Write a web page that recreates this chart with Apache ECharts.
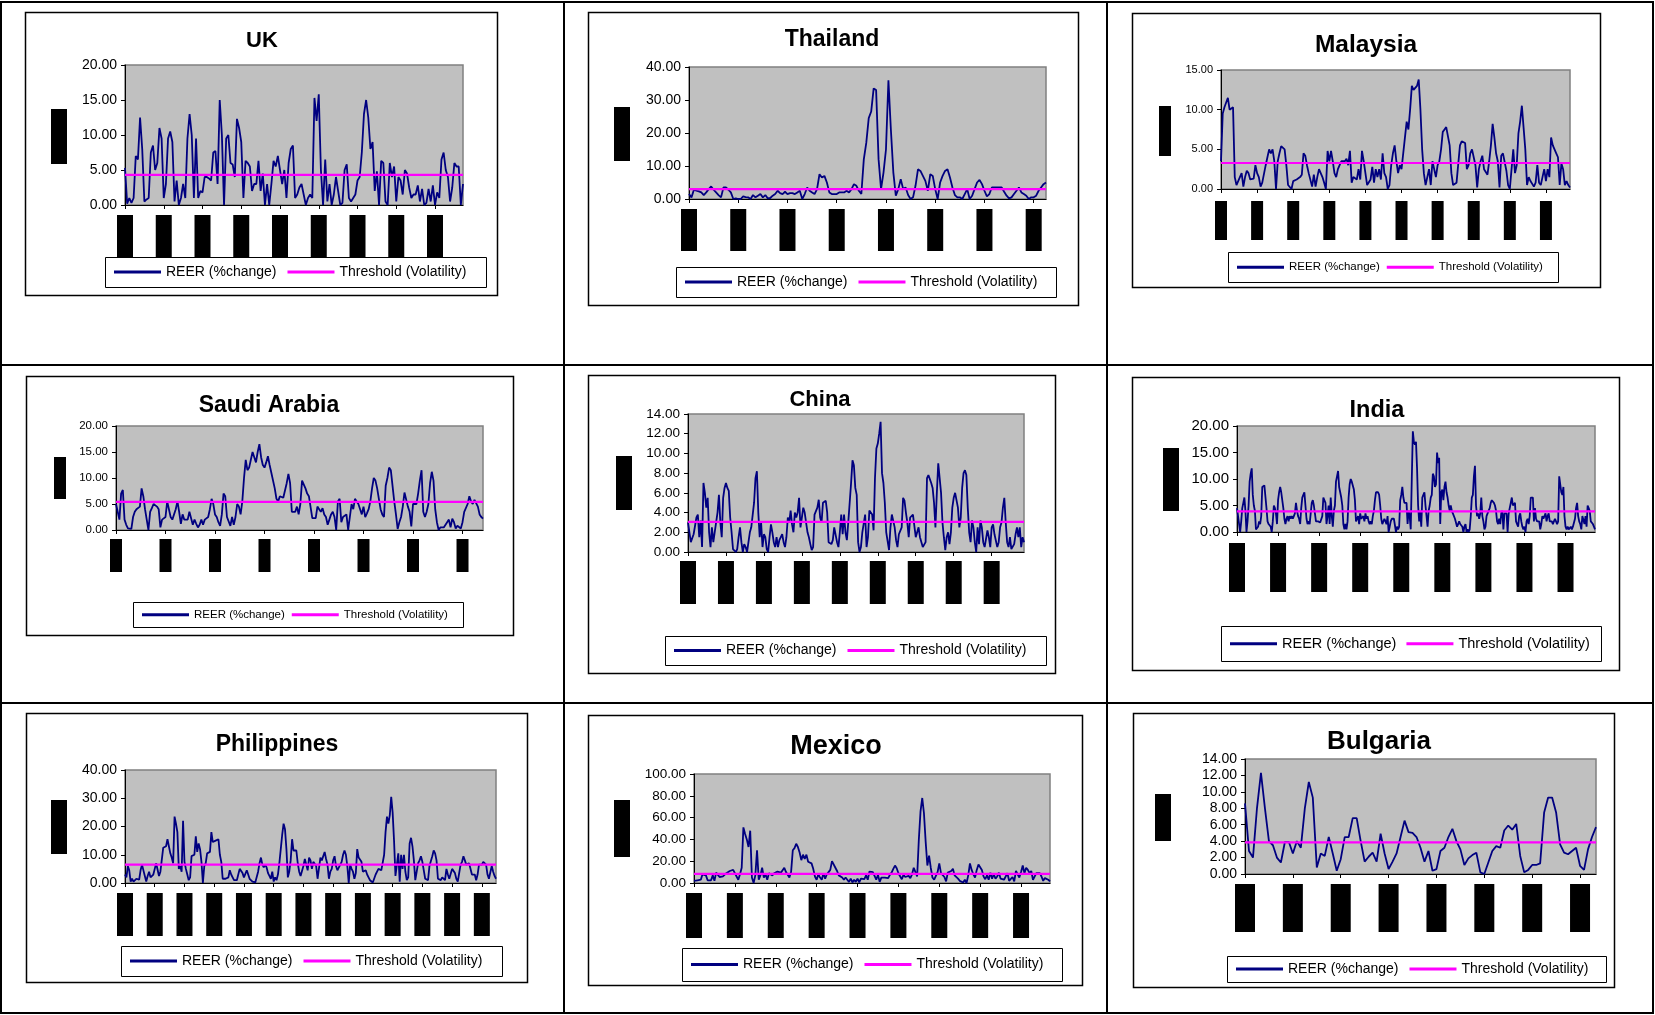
<!DOCTYPE html>
<html>
<head>
<meta charset="utf-8">
<title>REER (%change) vs Threshold (Volatility)</title>
<script src="https://cdn.jsdelivr.net/npm/echarts@6.0.0/dist/echarts.min.js"></script>
<style>
  html, body { margin: 0; padding: 0; background: #fff; }
  #chart { width: 1655px; height: 1015px; }
</style>
</head>
<body>
<div id="chart"></div>
<script>
// ---- data ----
const countries = ['UK', 'Thailand', 'Malaysia', 'Saudi Arabia', 'China', 'India', 'Philippines', 'Mexico', 'Bulgaria'];
const seriesNames = ['REER (%change)', 'Threshold (Volatility)'];
const thresholds = [4.3, 3.0, 3.28, 5.4, 3.05, 3.9, 6.5, 8.3, 3.85];
const yMax = [20, 40, 15, 20, 14, 20, 40, 100, 14];
const yStep = [5, 10, 5, 5, 2, 5, 10, 20, 2];

const ukREER = [5.3,0.2,1,0.3,1,7,6.5,12.5,8,0.5,0.8,1,7.5,8.5,5,6,11,9.5,1,3,9.5,10.5,9,0.5,3.5,0,1,3,1,9.5,13,10,1,9.5,1,2,1.8,4,4,3.8,3.5,7.5,7.7,3,15,10,0,9.5,10,6,5.8,4,12.3,11,9,1,6.3,6,5.5,2,3,3,6.3,2,4.5,0,3,0,3,6.3,5.5,7,5,3,5,1,6,8,8.5,1,1.5,2.5,3,1.5,0,1,1.5,1,15.3,12,15.8,5,0,6.5,0.5,3,0,1.5,4,2,0,0.3,5,5.8,1,0.5,1,1.5,3.5,4,7.5,13,15,12.5,8,9,2,4.8,0,6.3,6,0.5,0,6,4,5.5,0.5,4,3.5,1.5,5,4.5,2.5,1,1.5,1.5,2.8,0.5,2.3,0,0.3,2.3,0.5,2.8,0,1.8,1,6.5,7.5,5,4,0.5,2.5,6,5.5,5.5,0,3];

const thailandREER = [1.5,0.5,2.8,2.5,2.3,2,1.2,2,3,3.8,2.8,2,1.2,0.5,3.5,3.5,2.8,2,0,0.2,0,0,0.8,0.6,0.5,0,1.2,0.5,1,1.5,0.5,1.2,0.2,0.3,1,1.5,2.5,1.8,1.5,2.2,1.5,1.8,1.8,1.5,2,2.5,0,1.5,3.5,2.5,2,1.5,3,7.5,6.5,7,5,2,1.5,1.5,1.5,2,2,2,2.5,2,3,4.5,4,2.5,1.5,12,17,24.5,26.5,33.5,33,12,3,8,15,36,21,8,1,3,6,3,3.5,1.2,0,0.5,4,9,8.5,7,5.5,2.5,7.5,7,3,0,5,7,8.5,9,6.5,3.5,1.2,0.5,0.5,0,1.5,3,0,1,3,5,5.8,4.5,2.5,0.8,1.5,3.5,3.5,3.5,3.5,3.5,2.2,1,0.2,0.5,1.5,2.5,3.5,2,1.5,1,0,0.5,0.5,1,2.5,3.5,4.5,5];

const malaysiaREER = [3.5,9.5,10.3,10.5,11.5,10,9.8,10.3,1.5,0.5,1,1.5,2,0.3,1.5,2.3,2,1.2,1.2,1.3,3,2,1.5,0.3,0.8,1,3,4,5,4.5,5,3.5,0,3.5,4.5,5.4,5.4,5,3,0.5,0.5,0,1,0.8,1.2,1,1.5,1.8,4.5,4.2,3,2,1.8,0.3,1.8,0.3,1.5,2.5,2,1.5,0.8,0,4.8,3.5,4.8,3.5,2,1.5,2.5,3,3.5,3.7,3.5,3.8,3,4.8,0.8,1.5,1.3,1.2,2.5,1.2,4.8,3.5,3.5,0.5,0.3,1.2,2.8,0.8,2.5,1.5,2.5,1.2,4.5,2,1.5,0,0.5,3,4.5,5.5,3.5,2,3,2.5,2.5,6.5,8.5,7.5,10,13,12.5,12.5,13,13.8,10,5,2,0.5,1.5,2.5,0.5,3.5,3.5,1.5,3,3.5,5,7.2,7.5,7.8,7.8,5.5,2,0.5,0.3,0.8,0.8,5.5,6,6,5.8,2.5,3,4.5,5,5.2,3,0.2,2.5,3.5,4.2,2.5,2.5,1.8,3.5,5.5,8.2,6.5,4.5,3.5,0.2,4.2,4.5,4.5,2.3,0.5,0,2.5,5,2,3,7,8.5,10.5,10.5,5,0.5,1.5,1,1,0.3,0.8,3,0.8,0.5,1.5,2.5,1,2.5,1.5,6.5,5.5,5,4.5,4,0.5,3.2,2.5,0.5,1,0.5,0.2];

const saudiREER = [5,3.5,2,7,7.7,2,1,0.3,0.3,0.2,2.5,3.5,4,4.3,4.5,8,6.5,4,2,0,3.5,4.2,5,5.3,4.5,4,0.5,2,1.8,2.5,5.5,5.5,2.5,2,2.2,4,5.5,3.5,1.2,3,2,2.2,2,3.5,3.5,1,2,1.2,0.5,1,2,1,2,2,2.5,4,6,5,3,2.5,1.5,0.8,3,7,6.5,2.5,2.5,0.8,2.5,1,2.5,5,4.5,3,5.5,10,13.5,11.5,12,13.5,15,14,13,15,16.5,14,12.5,12,13,14.2,12.5,11,10.8,8,6,5.5,6.5,6.8,6.2,6.5,9,10.8,9,3.5,3.5,3.5,4.5,3,5,9.5,9.5,8,7,6.5,6.5,2.3,2.3,2.3,4.5,4,3.5,4.2,3,2.5,1,2,3,3.5,2.5,0,5.5,6,1.5,2.5,2.5,3,0,2.5,5,4,6,5.5,5,4,3,4.5,2.5,3.2,4,5.5,8,10,9.5,8,6,4,3,2.5,8.5,10,12,11.5,11.2,5.5,3,0.2,1.5,2.5,4.5,7.2,7.2,4.5,3.5,0.7,5,5,5,7,9.5,11.5,3.5,2.5,3.5,5,9,11.2,9.5,4,1.5,0,0.5,0.5,0.5,0.8,1.5,2,0.5,2.2,1.5,0.3,0.8,0.5,0.3,1.5,3.5,3.5,5,6.5,5.5,5,5.8,5.5,4.5,3,2.5,2.2];

const chinaREER = [3,2,1,0.8,1.8,1.8,3.5,3.8,1.5,3.2,0.5,7,6,4.5,5.5,2,0.5,2.5,1,0.8,3,4,5.8,3,1.5,5.5,6.5,7,6.5,6.2,3.5,2,0.3,0.3,0,0.3,1.5,2.5,1,0,0.8,0.5,0,1,2,2.5,2.5,5,7.5,8.2,4,1.5,3,0.5,1.8,1.5,0.3,0,1.5,2.8,2,1,0.5,1.5,0.5,1.2,1,1.8,1,0.5,1.5,3.5,3,4.2,2.8,2,4,3.5,4,5.5,2.5,3.5,4.5,4,4,2,1.5,0.8,0.2,0.5,3.8,3.8,4.5,5.3,3.5,3,5,4.8,5.2,4,1,0.8,0.8,1.2,2.5,2.5,1,0.5,2,3.8,1.8,3.8,2,1.2,3,5,7,9.3,8.8,6.5,5.8,1,0,0.5,2,2,3.8,0.5,1.5,4.2,4,3.8,2.2,7.5,10.5,11,12,13.2,8,7,5,2,1.8,0.2,2.5,3.8,3.8,2.5,1.2,0.5,1.8,2,2.5,5.5,5.2,4,3,1.5,3.5,3.5,3.8,4,1.5,1.5,2.5,1.5,1.5,0.5,0.3,1,7.5,7.8,8,7,6.5,5,2.5,6,9,9.2,6,3,1.5,0.2,1.5,2,0.8,2,4.5,5.5,6,6.2,4.5,2.5,3.5,6.5,8,8.3,7.8,4.5,2,1,3.2,2.5,1,0,2.5,0.8,3.2,2.5,1,0.5,0.3,2.2,1.5,0.5,2.5,2.8,1.8,2,0.5,1,2.5,3,4.5,5.5,3,1,0.5,1.5,0.3,0.5,0.8,1.8,2.5,1.5,2.5,0.5,1.5,1];

const indiaREER = [4.5,4.5,1.5,0,2,4.5,5.5,6.5,4,0,2,5,9.5,11,12,7,5,4,0.5,0.5,1,2,1.5,3,8.5,8.8,8.8,8.8,4.5,2,1.5,1.5,1,0,2,5,4.5,3.5,1.5,6,7.5,8.5,7.5,7.5,4.5,2.5,1.5,2.5,3,2,3,2.5,3,2.5,3,3.5,5.5,4,3,2.5,1.5,4.5,6.5,7,7.5,5,2.5,1.5,2,1.5,3.5,5.5,6,5,3.5,2,2,2,1.8,1.8,2,3,6.5,6.5,5.5,1.5,3,5,1.5,6.5,3,1,4,5,9.5,10.5,11.5,8.5,7.5,6.5,5,1.5,0.5,1.5,0.5,2,6.5,9,10,9.5,9.5,8,6,2,2.5,3,1.5,3.5,2.5,2.5,3,2,3.5,2.5,3,2,1.5,2,1.5,3,4,6,7.5,7.5,7.5,7,5,2.5,1.5,1.5,2.5,2,1.5,3,0,1,2,2.5,2.5,2.5,2.5,0,1,0.5,1,6,7,8.5,6.5,5.5,5.5,5.5,1.5,4,3,0.5,10,19,17,16.5,17,12,5,2,4,1,6.5,7,7.5,5,3,1,4,5,6.5,7,11,10.5,8.5,9,15,13,14,1.5,7.5,8,6,8.5,9.5,7.5,6.5,5,4,5,4,3.5,3.5,2.5,2.5,1,1.5,2,1.5,1.5,1,0,1,1.5,0,0.5,0,0.5,3,6.5,7,10.5,12.5,5,3,3.5,2.5,3.5,6.5,3,2,0.5,1,3,3.5,3.5,4.5,5.5,6,6,5.5,5,4,2,1.5,2.5,1.5,3.5,4,0.5,3.5,3.5,3.5,0,3.5,3.5,5.5,6.5,5,5,5.5,2,1.5,1,3,3.5,2,1,0.5,1,0,2,2.5,1.5,3,6.5,6.5,6.5,2,4.5,2.5,2,2,2,0.5,1.5,3,2.5,2.5,3.5,2,3,3.5,2,2,2,1.5,2,2.5,2.5,1.5,2,10.5,10.5,7.5,7,8.5,3,1,0.5,1,0.5,0.5,1,0.5,1,1,2.5,4.5,5.5,3,2,1.5,0.5,3,3,1.5,3,1,5,4.5,4,2,2,1.5,1,0.5];

const philippinesREER = [3,2,6,4.5,0.5,1.5,0.5,1,1.5,1.2,1.2,4.5,6.5,6.5,2.5,0.5,2.5,4,2,2,3,5,7,6.5,2.5,4,4.5,12.5,13,13,15.5,16,10.5,9,7,23.5,21,18,5,6,4,22,7.5,5,3,1,2,9.5,9.5,10,16.5,11,14,12,7.5,0,6,7,10.5,10,11,18,14.5,15,15,14.5,15.5,10,7.5,1.5,1.2,1.5,1,2,4.5,3,2,1,0.8,1,3,5,4.5,3.5,2,1.5,4.5,3,1.5,1,0.5,0.5,0.2,0.3,4,7,9,6.5,5.5,6.5,5.5,3.5,2.5,1.5,4,0.5,2,1,3,7,12,17,21,19,12,2,4,8,15.5,11.5,12,11.5,7,4,2.5,2.5,6,8.5,9,4.5,9,8,5,7.5,7,6,1.5,1.5,9,8,8.5,11,8.5,6.5,1.5,4,5,8,9.5,6,4.5,4.5,6.5,7.5,10,11.5,10,6,0,6.5,5,4,1.5,3.5,12,9,8.5,7.5,4,4.5,4.5,3,2,1,0.5,0.2,0.5,3,4,5,5,4.5,4.5,10,18,23.5,21,24,30.5,25,15,2.5,2,10.5,0.5,10,5,10,4,1,2,14,16,13,8,1,4,7,8,9.5,7.5,4.5,1.5,1,1,6,6.5,9.5,11.5,10.5,8,1.5,1.5,1,2,1.5,1,5,3,1.5,1,5,4.5,3.5,1.5,0.5,3.5,6.5,7.5,9.5,8,6.5,7,7,7,3,3,3,1,3,6.5,7,6.5,7.5,7.5,6.5,3,1.5,1,6,4,2.5,1.5];

const mexicoREER = [2,0.5,2.5,1.5,3,8,6.5,7,2.5,3.5,2.5,7,2,9.5,10,5.5,4,6,4.5,9,10,11,11,12,11.5,6,3,8,14,51,45,40,33,48,5,0,7,30,3,7,14,5,8,3,9,8,7,9,8.5,10.5,9,9.5,11,14,10,7.5,5,10,30,32,36,33,28,21,26,22,26,19.5,21,18,13,6,3,8,5,3,9,4,8,10,12,20,20,14,11,7,8,5,3,5,3,1,4,0.5,3,1,4,0.5,4,5.5,3.5,7,3,10.5,12,10,11,3,7.5,1,5,3.5,5,3.5,4.5,7.5,9.5,13,16,13.5,9,9,3.5,7.5,5.5,4,6.5,4.5,8,14,10,6,40,66,78,64,38,16,25,14,5,3,2,10,18,9,9,5.5,1.5,9.5,11,11,13,7,6,4,2,3.5,0.5,3,0,7,18,12,8,5,12,17,16,12,6,3.5,7,3,9.5,4,8,4,6,9.5,4,5.5,3,4.5,9,2,1.5,5.5,1.5,11,8,5,10,16,9,14,12,9,11,3,2,9,10,9,6,2,4.5,4,3,1.5];

const bulgariaREER = [8.6,2.8,2,8,12.3,8,4,3.5,2,1.4,3.9,3.9,2.5,4,3.2,8,11.2,9.3,0.8,2.5,2.2,4.5,2.5,0.4,1.8,4.5,4.5,6.8,6.8,4,1.5,2.1,2.6,1.5,4.9,2.5,0.6,1.5,2.5,4.5,6.5,5.1,5,4.5,3.2,1.5,2.8,0.4,0.6,2.8,3.2,4.5,5.5,4,3,1.1,1.9,2.3,2.6,0.2,0,1.4,2.8,3.4,3.2,5.3,5.9,5.4,6.1,2.2,0.2,0.5,1.1,1.1,1.3,7.5,9.3,9.3,7.5,3.6,2.6,2.4,2.8,3.2,1,0.5,3,4.5,5.7];

const reer = [ukREER, thailandREER, malaysiaREER, saudiREER, chinaREER, indiaREER, philippinesREER, mexicoREER, bulgariaREER];

// ---- page layout (px) ----
// box: chart frame [x,y,w,h]; title: [cx,cy,size]; plot: [x,y,w,h]
// yBlock / xBlock: black redaction marks; legend: frame [x,y,w,h], font size, gap
const panels = [
  { box: [25, 12, 472, 283],   title: [262, 38, 22],   plot: [125, 65, 338, 140],   yFont: 14,   yBlock: [51, 109, 16, 55],   xBlock: [16, 42, 10], tickFrac: 0.1135, blocks: 9,  legend: [105, 257, 381, 30], legFont: 14, legGap: 11 },
  { box: [588, 12, 490, 293],  title: [832, 37, 23],   plot: [689, 67, 357, 132],   yFont: 14,   yBlock: [614, 107, 16, 54],  xBlock: [16, 42, 10], tickFrac: 0.1397, blocks: 8,  legend: [676, 267, 380, 30], legFont: 14, legGap: 11 },
  { box: [1132, 13, 468, 274], title: [1366, 42, 24.5],plot: [1221, 70, 349, 119],  yFont: 11,   yBlock: [1159, 106, 12, 50], xBlock: [12, 39, 12], tickFrac: 0.1023, blocks: 10, legend: [1228, 252, 330, 30], legFont: 11.5, legGap: 7 },
  { box: [26, 376, 487, 259],  title: [269, 403, 23],  plot: [116, 426, 367, 104],  yFont: 11.5, yBlock: [54, 457, 12, 42],   xBlock: [12, 33, 9],  tickFrac: 0.1363, blocks: 8,  legend: [133, 602, 330, 25], legFont: 11.5, legGap: 7 },
  { box: [588, 375, 467, 298], title: [820, 397, 22],  plot: [688, 414, 336, 138],  yFont: 13.5, yBlock: [616, 456, 16, 54],  xBlock: [16, 43, 9],  tickFrac: 0.1138, blocks: 9,  legend: [665, 636, 381, 29], legFont: 14, legGap: 11 },
  { box: [1132, 377, 487, 293],title: [1377, 407, 23.5],plot: [1237, 426, 358, 106], yFont: 15,   yBlock: [1163, 448, 16, 63], xBlock: [16, 49, 11], tickFrac: 0.1137, blocks: 9,  legend: [1221, 626, 380, 35], legFont: 14.5, legGap: 10 },
  { box: [26, 713, 501, 269],  title: [277, 742, 23],  plot: [125, 770, 371, 113],  yFont: 14,   yBlock: [51, 800, 16, 54],   xBlock: [16, 43, 10], tickFrac: 0.0819, blocks: 13, legend: [121, 946, 381, 30], legFont: 14, legGap: 11 },
  { box: [588, 715, 494, 270], title: [836, 743, 27],  plot: [694, 774, 356, 109],  yFont: 13.5, yBlock: [614, 800, 16, 57],  xBlock: [16, 45, 10], tickFrac: 0.1137, blocks: 9,  legend: [682, 948, 380, 33], legFont: 14, legGap: 11 },
  { box: [1133, 713, 481, 274],title: [1379, 738, 26], plot: [1245, 759, 351, 115], yFont: 14,   yBlock: [1155, 794, 16, 47], xBlock: [20, 48, 10], tickFrac: 0.1346, blocks: 8,  legend: [1227, 956, 379, 26], legFont: 14, legGap: 11 }
];

const FONT = '"Liberation Sans", Arial, Helvetica, sans-serif';

const chart = echarts.init(document.getElementById('chart'), null, { renderer: 'canvas' });

const option = {
  animation: false,
  backgroundColor: '#fff',
  title: [],
  legend: [],
  grid: [],
  xAxis: [],
  yAxis: [],
  series: [],
  graphic: []
};

// table rules
const table = [
  [1, 1, 1653, 2], [1, 1012, 1653, 2], [0, 1, 2, 1013], [1652, 1, 2, 1013],
  [563, 1, 2, 1013], [1106, 1, 2, 1013], [1, 364, 1653, 2], [1, 702, 1653, 2]
];
table.forEach(function (r) {
  option.graphic.push({ type: 'rect', shape: { x: r[0], y: r[1], width: r[2], height: r[3] }, style: { fill: '#000' } });
});

panels.forEach(function (p, i) {
  const data = reer[i];
  const n = data.length;
  const step = Math.max(1, Math.round(p.tickFrac * (n - 1)));
  const tickAt = function (idx) { return idx % step === 0 && idx / step < p.blocks; };

  // chart frame, y title block, legend frame
  option.graphic.push({ type: 'rect', shape: { x: p.box[0] + 0.5, y: p.box[1] + 0.5, width: p.box[2], height: p.box[3] }, style: { fill: 'transparent', stroke: '#000', lineWidth: 1.5 } });
  option.graphic.push({ type: 'rect', shape: { x: p.yBlock[0], y: p.yBlock[1], width: p.yBlock[2], height: p.yBlock[3] }, style: { fill: '#000' } });
  option.graphic.push({ type: 'rect', shape: { x: p.legend[0] + 0.5, y: p.legend[1] + 0.5, width: p.legend[2], height: p.legend[3] }, style: { fill: 'transparent', stroke: '#000', lineWidth: 1 } });

  option.title.push({
    text: countries[i],
    left: p.title[0],
    top: p.title[1] - p.title[2] * 0.37,
    textAlign: 'center',
    padding: 0,
    textStyle: { fontFamily: FONT, fontWeight: 'bold', fontSize: p.title[2], color: '#000' }
  });

  option.legend.push({
    data: seriesNames,
    left: p.legend[0] + 9,
    top: p.legend[1] + (p.legend[3] - p.legFont) / 2,
    padding: 0,
    itemGap: p.legGap,
    itemWidth: 47,
    itemHeight: 3,
    icon: 'rect',
    selectedMode: false,
    textStyle: { fontFamily: FONT, fontSize: p.legFont, color: '#000' }
  });

  option.grid.push({
    left: p.plot[0], top: p.plot[1], width: p.plot[2], height: p.plot[3],
    show: true, backgroundColor: '#C0C0C0', borderColor: '#808080', borderWidth: 1.5,
    containLabel: false, outerBoundsMode: 'none'
  });

  option.xAxis.push({
    type: 'category',
    gridIndex: i,
    data: data.map(function (v, k) { return k; }),
    boundaryGap: false,
    axisLine: { lineStyle: { color: '#000', width: 1 } },
    axisTick: { show: true, interval: tickAt, length: 4, lineStyle: { color: '#000' } },
    axisLabel: {
      interval: tickAt,
      margin: p.xBlock[2],
      formatter: function () { return '{b| }'; },
      rich: { b: { width: p.xBlock[0], height: p.xBlock[1], backgroundColor: '#000' } }
    },
    splitLine: { show: false }
  });

  option.yAxis.push({
    type: 'value',
    gridIndex: i,
    min: 0,
    max: yMax[i],
    interval: yStep[i],
    axisLine: { show: true, lineStyle: { color: '#000', width: 1 } },
    axisTick: { show: true, length: 4, lineStyle: { color: '#000' } },
    axisLabel: {
      formatter: function (v) { return v.toFixed(2); },
      fontFamily: FONT, fontSize: p.yFont, color: '#000', margin: 8
    },
    splitLine: { show: false }
  });

  option.series.push({
    name: seriesNames[0],
    type: 'line',
    xAxisIndex: i,
    yAxisIndex: i,
    data: data,
    symbol: 'none',
    color: '#000080',
    lineStyle: { width: 1.8, color: '#000080' },
    z: 2
  });

  option.series.push({
    name: seriesNames[1],
    type: 'line',
    xAxisIndex: i,
    yAxisIndex: i,
    data: [[0, thresholds[i]], [n - 1, thresholds[i]]],
    symbol: 'none',
    color: '#FF00FF',
    lineStyle: { width: 2.2, color: '#FF00FF' },
    z: 3
  });
});

chart.setOption(option);
</script>
</body>
</html>
